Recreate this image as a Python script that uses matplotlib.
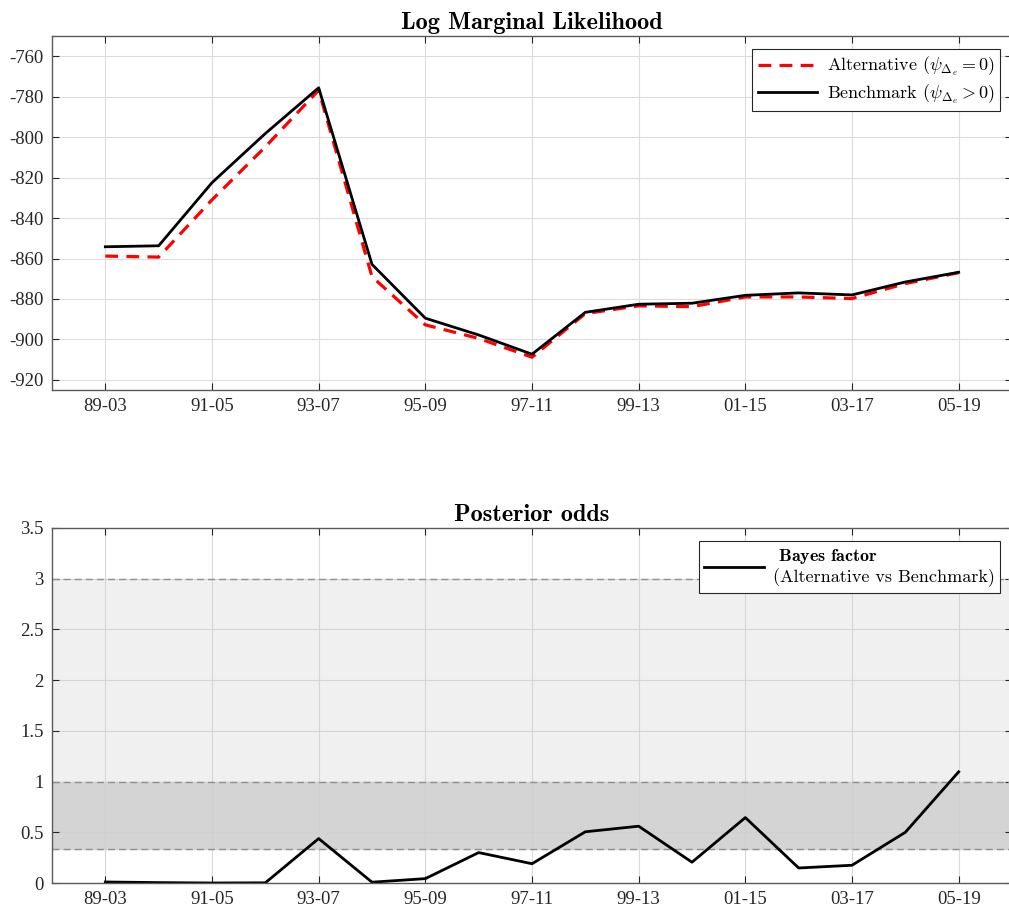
import matplotlib
matplotlib.use("Agg")
import matplotlib.pyplot as plt
import numpy as np

# ---- data ----
windows = ["89-03", "90-04", "91-05", "92-06", "93-07", "94-08", "95-09", "96-10",
           "97-11", "98-12", "99-13", "00-14", "01-15", "02-16", "03-17", "04-18", "05-19"]
alternative = [-858.8, -859.3, -831.0, -804.8, -776.8, -869.0, -892.8, -899.5,
               -908.8, -887.2, -883.4, -883.8, -879.0, -879.0, -879.8, -872.4, -867.0]
benchmark = [-854.2, -853.7, -822.5, -798.2, -775.6, -862.9, -889.5, -897.8,
             -907.3, -886.6, -882.6, -882.1, -878.2, -877.0, -878.0, -871.6, -866.8]
bayes_factor = [0.010, 0.004, 0.000, 0.002, 0.438, 0.008, 0.043, 0.300,
                0.190, 0.505, 0.560, 0.205, 0.645, 0.148, 0.175, 0.500, 1.096]
band_levels = [1/3, 1.0, 3.0]

plt.rcParams["mathtext.fontset"] = "cm"
plt.rcParams["font.family"] = ["Liberation Serif", "DejaVu Serif"]
plt.rcParams["axes.unicode_minus"] = False

fig = plt.figure(figsize=(10.09, 9.13), dpi=100)
W, H = 1009, 913
def pos(l, t, r, b):
    return [l / W, 1 - b / H, (r - l) / W, (b - t) / H]

ax1 = fig.add_axes(pos(52, 36, 1012, 390))
ax2 = fig.add_axes(pos(52, 528, 1012, 883))

x = np.arange(len(windows))
edge = "#5a5a5a"
tickc = "#262626"

def style(ax):
    ax.set_xlim(-1, len(windows))
    ax.set_xticks(x[::2])
    ax.set_xticklabels(windows[::2])
    ax.grid(True, color="#dcdcdc", lw=0.8)
    ax.set_axisbelow(True)
    for s in ax.spines.values():
        s.set_color(edge)
        s.set_linewidth(1.0)
    ax.tick_params(direction="in", top=True, right=True, length=5, width=0.8,
                   color=tickc, labelcolor="#262626", labelsize=13.5, pad=6)

ax1.plot(x, alternative, color="red", ls=(0, (4, 2.6)), lw=2.3,
         label=r"Alternative ($\psi_{\Delta_e} = 0$)")
ax1.plot(x, benchmark, color="black", lw=2.0,
         label=r"Benchmark ($\psi_{\Delta_e} > 0$)")
style(ax1)
ax1.set_ylim(-925, -750)
ax1.set_yticks(np.arange(-920, -759, 20))
ax1.set_title("Log Marginal Likelihood", fontfamily="cmb10", fontsize=17.5, pad=5)
leg1 = ax1.legend(loc="upper right", bbox_to_anchor=(0.9875, 0.962), fancybox=False,
                  framealpha=1, edgecolor="#262626", borderpad=0.3, handlelength=3.3,
                  labelspacing=0.25, handletextpad=0.5, borderaxespad=0,
                  prop={"family": "cmr10", "size": 13})
leg1.get_frame().set_linewidth(0.8)

ax2.axhspan(band_levels[1], band_levels[2], color="#f0f0f0", zorder=0.5)
ax2.axhspan(band_levels[0], band_levels[1], color="#d4d4d4", zorder=0.5)
for lv in band_levels:
    ax2.axhline(lv, color="#8f8f8f", ls=(0, (5, 3)), lw=1.0, zorder=1.5)
ax2.plot(x, bayes_factor, color="black", lw=2.0,
         label=r"$\ \mathbf{Bayes\ factor}$" + "\n(Alternative vs Benchmark)")
style(ax2)
ax2.grid(True, color="#cfcfcf", lw=0.8, alpha=0.8)
ax2.set_ylim(0, 3.5)
ax2.set_yticks(np.arange(0, 3.51, 0.5))
ax2.set_yticklabels(["0", "0.5", "1", "1.5", "2", "2.5", "3", "3.5"])
ax2.set_title("Posterior odds", fontfamily="cmb10", fontsize=17.5, pad=5)
leg2 = ax2.legend(loc="upper right", bbox_to_anchor=(0.9875, 0.962), fancybox=False,
                  framealpha=1, edgecolor="#262626", borderpad=0.3, handlelength=3.3,
                  handletextpad=0.5, borderaxespad=0,
                  prop={"family": "cmr10", "size": 13})
leg2.get_frame().set_linewidth(0.8)

fig.savefig("out.png", dpi=100)
